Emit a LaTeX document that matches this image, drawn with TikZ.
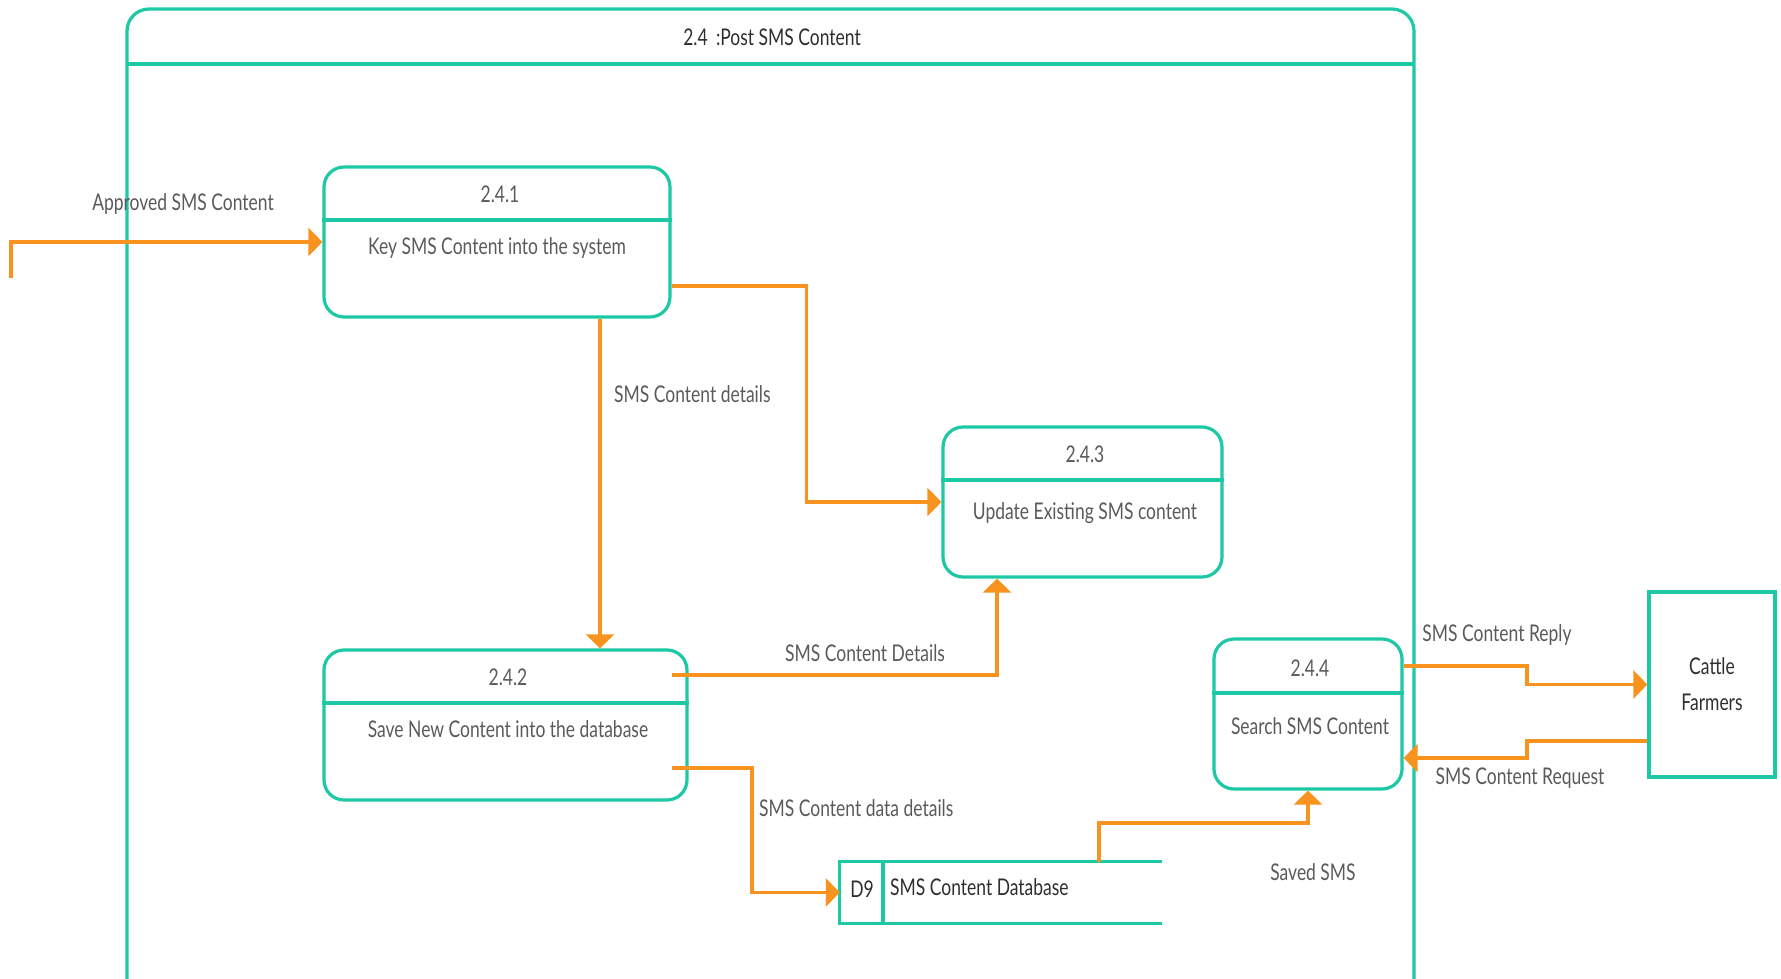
\documentclass[tikz,border=0pt]{standalone}
\usepackage{fontspec}
\setmainfont{Lato}[FakeStretch=0.76]
\usetikzlibrary{arrows.meta,calc}
\definecolor{teal1}{HTML}{1DC8A4}
\definecolor{orng}{HTML}{F7931E}
\definecolor{txt}{HTML}{5A5A5A}
\definecolor{dtxt}{HTML}{2E2E2E}
\tikzset{
  proc/.style={draw=teal1,line width=3.2pt,rounded corners=20pt,minimum height=150pt,inner sep=0pt},
  divl/.style={draw=teal1,line width=3.2pt},
  flow/.style={draw=orng,line width=3.1pt,-{Triangle[length=14pt,width=28pt]}},
  lbl/.style={text=txt,font=\fontsize{23}{27}\selectfont,inner sep=0pt},
  dlbl/.style={text=dtxt,font=\fontsize{23}{27}\selectfont,inner sep=0pt},
}
\begin{document}
\begin{tikzpicture}[x=1pt,y=-1pt]
\useasboundingbox (0,0) rectangle (1781,979);
% outer frame
\draw[teal1,line width=3.2pt,rounded corners=22pt] (127,979) -- (127,9) -- (1414,9) -- (1414,979);
\draw[divl] (127,64) -- (1414,64);
\node[dlbl] (title) at (772,37) {2.4 \,:Post SMS Content};

% processes
\node[proc,minimum width=346pt] (b241) at (497,242) {};
\draw[divl] (b241.west |- 0,220) -- (b241.east |- 0,220);
\node[lbl] (n241) at (500,194) {2.4.1};
\node[lbl] (t241) at (497,248) {Key SMS Content into the system};

\node[proc,minimum width=279pt] (b243) at (1082.5,502) {};
\draw[divl] (b243.west |- 0,480) -- (b243.east |- 0,480);
\node[lbl] (n243) at (1085,454) {2.4.3};
\node[lbl] (t243) at (1085,513) {Update Existing SMS content};

\node[proc,minimum width=363pt] (b242) at (505.5,725) {};
\draw[divl] (b242.west |- 0,703) -- (b242.east |- 0,703);
\node[lbl] (n242) at (508,677) {2.4.2};
\node[lbl] (t242) at (508,729) {Save New Content into the database};

\node[proc,minimum width=188pt] (b244) at (1308,714) {};
\draw[divl] (b244.west |- 0,693) -- (b244.east |- 0,693);
\node[lbl] (n244) at (1310,668) {2.4.4};
\node[lbl] (t244) at (1310,726) {Search SMS Content};

% external entity
\node[draw=teal1,line width=3.2pt,minimum width=126pt,minimum height=185pt,inner sep=0pt,
      align=center,text=dtxt,font=\fontsize{23}{36}\selectfont] (cattle) at (1712,684.5) {Cattle\\Farmers};

% data store
\node[minimum width=322pt,minimum height=61pt,inner sep=0pt] (store) at (1001,892.5) {};
\draw[divl] (store.north east) -- (store.north west) -- (store.south west) -- (store.south east);
\draw[divl] (883,862) -- (883,923);
\node[dlbl] (d9) at (862,889) {D9};
\node[dlbl,anchor=west] (sname) at (890,887) {SMS Content Database};

% connectors
\coordinate (in0) at (11,278);
\draw[flow] (in0) |- (b241.west);
\node[lbl] (l1) at (183,204) {Approved SMS Content};

\draw[flow] ([yshift=-44pt]b241.east) -| ($([yshift=-44pt]b241.east)!0.5!(b243.west)$) |- (b243.west);

\draw[flow] ([xshift=103pt]b241.south) -- ([xshift=103pt]b241.south |- b242.north);
\node[lbl,anchor=west] (l2) at (614,394) {SMS Content details};

\draw[flow] ([yshift=50pt,xshift=-17pt]b242.east) -| ([xshift=-85.5pt]b243.south);
\node[lbl] (l3) at (865,653) {SMS Content Details};

\coordinate (c1) at (752,830);
\draw[flow] ([yshift=-43pt,xshift=-17pt]b242.east) -| (c1) |- (store.west);
\node[lbl,anchor=west] (l4) at (759,808) {SMS Content data details};

\coordinate (c2) at (1200,823);
\draw[flow] ([xshift=98pt]store.north) |- (c2) -| (b244.south);
\node[lbl] (l5) at (1313,872) {Saved SMS};

\coordinate (c3) at (1527,675);
\draw[flow] ([yshift=48pt]b244.east) -| (c3) |- (cattle.west);
\node[lbl] (l6) at (1497,635) {SMS Content Reply};

\coordinate (c4) at (1527,750);
\draw[flow] ([yshift=-56.5pt]cattle.west) -| (c4) |- ([yshift=-44pt]b244.east);
\node[lbl] (l7) at (1520,778) {SMS Content Request};
\end{tikzpicture}
\end{document}
